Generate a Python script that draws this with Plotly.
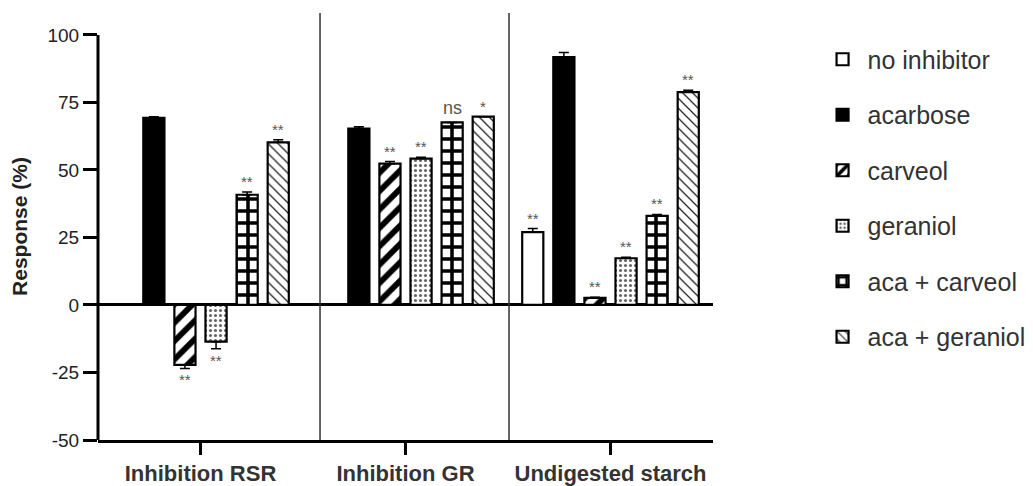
import plotly.graph_objects as go

categories = ["Inhibition RSR", "Inhibition GR", "Undigested starch"]
series_names = ["no inhibitor", "acarbose", "carveol", "geraniol", "aca + carveol", "aca + geraniol"]

no_inhibitor = [None, None, 27.0]
acarbose = [69.3, 65.3, 91.8]
carveol = [-22.2, 52.3, 2.6]
geraniol = [-13.6, 54.2, 17.3]
aca_carveol = [40.8, 67.6, 33.0]
aca_geraniol = [60.2, 69.7, 78.8]

err_no_inhibitor = [0, 0, 1.3]
err_acarbose = [0.4, 0.7, 1.7]
err_carveol = [1.3, 0.8, 0.3]
err_geraniol = [2.6, 0.5, 0.4]
err_aca_carveol = [1.0, 0.0, 0.5]
err_aca_geraniol = [1.0, 0.0, 0.7]

sig_no_inhibitor = ["", "", "**"]
sig_acarbose = ["", "", ""]
sig_carveol = ["**", "**", "**"]
sig_geraniol = ["**", "**", "**"]
sig_aca_carveol = ["**", "ns", "**"]
sig_aca_geraniol = ["**", "*", "**"]

y_ticks = [-50, -25, 0, 25, 50, 75, 100]
y_tick_labels = ["-50", "-25", "0", "25", "50", "75", "100"]

values = [no_inhibitor, acarbose, carveol, geraniol, aca_carveol, aca_geraniol]
errors = [err_no_inhibitor, err_acarbose, err_carveol, err_geraniol, err_aca_carveol, err_aca_geraniol]
sigs = [sig_no_inhibitor, sig_acarbose, sig_carveol, sig_geraniol, sig_aca_carveol, sig_aca_geraniol]

patterns = [
    dict(shape=""),
    dict(shape=""),
    dict(shape="/", size=13, solidity=0.45, fgcolor="black", bgcolor="white", fillmode="replace"),
    dict(shape=".", size=5, solidity=0.3, fgcolor="#666666", bgcolor="white", fillmode="replace"),
    dict(shape="+", size=12, solidity=0.5, fgcolor="black", bgcolor="white", fillmode="replace"),
    dict(shape="\\", size=7, solidity=0.18, fgcolor="#222222", bgcolor="white", fillmode="replace"),
]
fills = ["white", "black", "white", "white", "white", "white"]

BARGAP = 0.09
BARGROUPGAP = 0.32

FONT = "Liberation Sans, Arial"

fig = go.Figure()
for i, name in enumerate(series_names):
    vals = values[i]
    errs = errors[i]
    plus = [e if (v is not None and v >= 0) else 0 for v, e in zip(vals, errs)]
    minus = [e if (v is not None and v < 0) else 0 for v, e in zip(vals, errs)]
    fig.add_trace(go.Bar(
        name=name, x=categories, y=vals,
        legendgroup=name,
        marker=dict(color=fills[i], line=dict(color="black", width=2.2), pattern=patterns[i]),
        error_y=dict(type="data", symmetric=False, array=plus, arrayminus=minus,
                     color="black", thickness=1.5, width=5),
    ))

# significance labels
n = len(series_names)
slot = (1 - BARGAP) / n
for i in range(n):
    for g in range(len(categories)):
        s = sigs[i][g]
        v = values[i][g]
        if not s or v is None:
            continue
        e = errors[i][g]
        xpos = g + (i - (n - 1) / 2) * slot
        if v >= 0:
            fig.add_annotation(x=xpos, y=v + e, text=s, showarrow=False, yanchor="bottom",
                               yshift=2 if s == "ns" else 0,
                               font=dict(size=18 if s == "ns" else 15, color="#555555", family=FONT))
        else:
            fig.add_annotation(x=xpos, y=v - e, text=s, showarrow=False, yanchor="top",
                               yshift=-1,
                               font=dict(size=15, color="#555555", family=FONT))

# group dividers
for xd in [0.583, 1.505]:
    fig.add_shape(type="line", xref="x", yref="paper", x0=xd, x1=xd, y0=0, y1=1,
                  line=dict(color="#333333", width=1.5))
# y axis line (only up to 100)
fig.add_shape(type="line", xref="paper", yref="y", x0=0, x1=0, y0=-50, y1=100,
              line=dict(color="black", width=3))

fig.update_layout(
    width=1025, height=478,
    margin=dict(l=90, r=320, t=5, b=46, autoexpand=False),
    paper_bgcolor="white", plot_bgcolor="white",
    barmode="group", bargap=BARGAP, bargroupgap=BARGROUPGAP,
    font=dict(family=FONT, color="#222222"),
    showlegend=True,
    legend=dict(x=1.17, xanchor="left", y=0.945, yanchor="top",
                font=dict(size=25, color="#333333", family=FONT),
                tracegroupgap=20, itemwidth=40, bgcolor="rgba(0,0,0,0)"),
    xaxis=dict(range=[-0.5, 2.5], showline=True, linecolor="black", linewidth=3,
               ticks="outside", ticklen=12, tickwidth=3, tickcolor="black",
               tickfont=dict(size=22, color="#333333", family=FONT, weight="bold"),
               showgrid=False, zeroline=False, automargin=False),
    yaxis=dict(range=[-50, 108.1], tickvals=y_ticks, ticktext=y_tick_labels,
               ticks="outside", ticklen=14,
               tickwidth=3, tickcolor="black", showline=False, showgrid=False,
               zeroline=True, zerolinecolor="black", zerolinewidth=3,
               tickfont=dict(size=19, color="#222222", family=FONT),
               title=dict(text="Response (%)", standoff=20,
                          font=dict(size=21, color="#222222", family=FONT, weight="bold")),
               automargin=False),
)

fig.write_html("out.html")
